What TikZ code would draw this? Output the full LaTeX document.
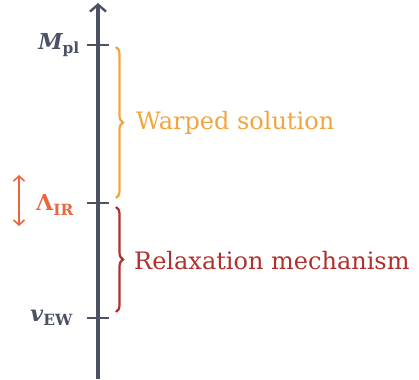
\documentclass[tikz,border=0pt]{standalone}
\usepackage{fontspec}
\setmainfont{DejaVu Serif}
\usetikzlibrary{arrows.meta,decorations.pathreplacing}
\definecolor{axisgray}{HTML}{4A5263}
\definecolor{warporange}{HTML}{F2A53F}
\definecolor{relaxred}{HTML}{B0302C}
\definecolor{irorange}{HTML}{E8673F}
\newcommand{\scl}[2]{#1\textsubscript{\upshape\bfseries #2}}
\tikzset{
  axisarr/.style={-{Straight Barb[length=7pt,width=16pt,line width=2.4pt]}, line width=3.2pt, axisgray},
  tickmark/.style={line width=2.4pt, axisgray},
  lbl/.style={anchor=east, font=\fontsize{22}{24}\selectfont\bfseries, inner sep=0pt},
  brc/.style={decorate, decoration={brace, amplitude=7pt}, line width=2.2pt},
  txt/.style={anchor=west, font=\fontsize{24}{26}\selectfont, inner sep=0pt},
  dblarr/.style={{Straight Barb[length=5pt,width=11pt]}-{Straight Barb[length=5pt,width=11pt]}, line width=1.6pt},
}

\begin{document}
\begin{tikzpicture}[x=1pt,y=1pt]
\useasboundingbox (0,0) rectangle (419,-379);
% energy axis
\coordinate (bot) at (98,-379);
\coordinate (top) at (98,-3);
\draw[axisarr] (bot) -- (top);
\coordinate (tpl) at (98,-45);
\coordinate (tir) at (98,-203);
\coordinate (tew) at (98,-318);
\foreach \t in {tpl,tir,tew}
  \draw[tickmark] ([xshift=-11pt]\t) -- ([xshift=11pt]\t);
% scale labels
\node[lbl, text=axisgray] (mpl) at (80,-45) {\scl{\itshape M}{pl}};
\node[lbl, text=irorange] (lir) at (74,-205) {\scl{Λ}{IR}};
\node[lbl, text=axisgray] (vew) at (73,-318) {\scl{\itshape v}{EW}};
\coordinate (la) at (19,-175);
\coordinate (lb) at (19,-226);
\draw[dblarr, irorange] (la) -- (lb);
% regimes
\coordinate (w1) at (116,-47);
\coordinate (w2) at (116,-198);
\coordinate (r1) at (116,-207);
\coordinate (r2) at (116,-312);
\draw[brc, warporange] (w1) -- (w2);
\draw[brc, relaxred] (r1) -- (r2);
\node[txt, text=warporange] (warp) at (136,-123) {Warped solution};
\node[txt, text=relaxred] (relax) at (134,-261) {Relaxation mechanism};
\end{tikzpicture}
\end{document}
